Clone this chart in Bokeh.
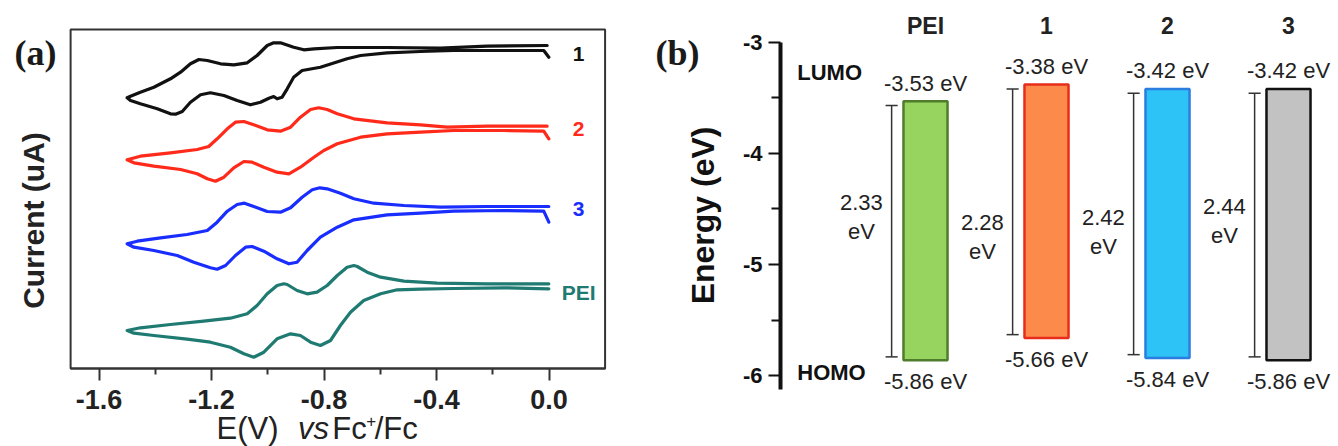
import math
from bokeh.plotting import figure
from bokeh.models import Range1d, FixedTicker, PrintfTickFormatter, BoxAnnotation
from bokeh.layouts import row
from bokeh.core.properties import value
from bokeh.embed import file_html
from bokeh.resources import INLINE

# ---------------- Panel (a): cyclic voltammograms ----------------
# potential (V vs Fc+/Fc) and current (arbitrary, stacked), one closed loop per compound
e_1 = [-0.007, -0.220, -0.386, -0.576, -0.753, -0.836, -0.872, -0.908, -0.955, -0.979, -1.002, -1.038,
       -1.073, -1.121, -1.168, -1.215, -1.245, -1.275, -1.310, -1.346, -1.405, -1.453, -1.488, -1.500,
       -1.488, -1.453, -1.393, -1.346, -1.328, -1.304, -1.275, -1.239, -1.204, -1.156, -1.109, -1.062,
       -1.026, -0.996, -0.979, -0.967, -0.949, -0.931, -0.908, -0.878, -0.813, -0.718, -0.670, -0.576,
       -0.457, -0.339, -0.161, -0.019, -0.001]
i_1 = [32.30, 32.23, 32.03, 32.10, 32.10, 31.97, 31.87, 32.13, 32.57, 32.57, 32.30, 31.30,
       30.57, 30.37, 30.47, 30.80, 30.90, 30.47, 29.63, 28.97, 28.13, 27.63, 27.23, 27.07,
       26.80, 26.47, 25.97, 25.47, 25.43, 25.70, 26.63, 27.37, 27.57, 27.30, 26.80, 26.37,
       26.63, 27.03, 27.20, 26.97, 27.13, 27.97, 29.13, 29.80, 30.13, 30.97, 31.30, 31.57,
       31.70, 31.80, 31.80, 31.80, 31.13]

e_2 = [-0.007, -0.220, -0.362, -0.457, -0.576, -0.694, -0.753, -0.789, -0.819, -0.848, -0.884, -0.919,
       -0.955, -1.002, -1.050, -1.085, -1.115, -1.144, -1.180, -1.210, -1.251, -1.346, -1.453, -1.500,
       -1.476, -1.405, -1.310, -1.251, -1.215, -1.186, -1.156, -1.121, -1.085, -1.056, -1.014, -0.967,
       -0.925, -0.884, -0.836, -0.801, -0.753, -0.670, -0.576, -0.457, -0.339, -0.161, -0.019, -0.001]
i_2 = [24.23, 24.23, 24.13, 24.37, 24.57, 24.97, 25.47, 25.90, 26.07, 25.90, 25.13, 24.13,
       23.73, 23.87, 24.37, 24.70, 24.63, 23.97, 22.97, 22.20, 21.90, 21.57, 21.23, 20.87,
       20.57, 20.23, 19.90, 19.47, 18.97, 18.73, 19.13, 20.07, 20.70, 20.63, 20.13, 19.63,
       19.47, 20.13, 21.13, 21.80, 22.47, 23.13, 23.47, 23.63, 23.80, 23.80, 23.73, 22.97]

e_3 = [-0.001, -0.220, -0.386, -0.516, -0.623, -0.694, -0.742, -0.789, -0.815, -0.842, -0.878, -0.919,
       -0.955, -1.002, -1.050, -1.083, -1.109, -1.144, -1.180, -1.215, -1.287, -1.381, -1.464, -1.500,
       -1.476, -1.405, -1.322, -1.263, -1.204, -1.180, -1.150, -1.115, -1.079, -1.056, -1.014, -0.967,
       -0.925, -0.896, -0.860, -0.813, -0.753, -0.694, -0.576, -0.457, -0.339, -0.161, -0.019, -0.001]
i_3 = [16.20, 16.20, 16.13, 16.30, 16.53, 16.97, 17.53, 17.97, 18.07, 17.87, 17.13, 16.07,
       15.63, 15.70, 16.20, 16.53, 16.40, 15.73, 14.63, 13.80, 13.40, 13.07, 12.73, 12.47,
       12.13, 11.80, 11.30, 10.63, 10.07, 9.93, 10.30, 11.30, 12.13, 12.20, 11.73, 10.97,
       10.47, 10.63, 11.80, 13.13, 14.13, 14.87, 15.37, 15.53, 15.73, 15.80, 15.73, 14.63]

e_pei = [-0.001, -0.220, -0.398, -0.516, -0.599, -0.647, -0.682, -0.694, -0.718, -0.753, -0.789, -0.825,
         -0.860, -0.896, -0.931, -0.943, -0.967, -1.002, -1.038, -1.073, -1.133, -1.228, -1.346, -1.453,
         -1.500,
         -1.476, -1.405, -1.287, -1.204, -1.133, -1.085, -1.050, -1.014, -0.967, -0.919, -0.884, -0.848,
         -0.813, -0.777, -0.742, -0.706, -0.659, -0.599, -0.540, -0.457, -0.339, -0.161, -0.001]
i_pei = [8.47, 8.47, 8.53, 8.73, 9.13, 9.63, 10.20, 10.30, 10.13, 9.30, 8.30, 7.63,
         7.47, 7.80, 8.40, 8.47, 8.30, 7.47, 6.30, 5.47, 5.03, 4.73, 4.40, 4.07,
         3.80,
         3.53, 3.30, 2.93, 2.63, 2.13, 1.47, 1.13, 1.63, 2.97, 3.47, 3.30, 2.63,
         2.30, 2.80, 4.30, 5.63, 6.80, 7.47, 7.87, 7.93, 8.00, 8.07, 7.97]

cv_names = ["1", "2", "3", "PEI"]
cv_colors = ["#111111", "#ff2a1a", "#1a2dff", "#1f7a72"]
cv_label_y = [31.5, 24.0, 16.0, 7.6]
x_ticks = [-1.6, -1.2, -0.8, -0.4, 0.0]
x_minor = [-1.4, -1.0, -0.6, -0.2]
E_LIM = (-1.701, 0.199)      # plot box, potential
I_LIM = (0.0, 33.9)          # plot box, current

SANS = "Liberation Sans"
SERIF = "Liberation Serif"

pa = figure(width=640, height=446, x_range=Range1d(-1.9502, 0.3249), y_range=Range1d(-7.8, 36.8),
            output_backend="svg", toolbar_location=None,
            min_border_left=0, min_border_right=0, min_border_top=0, min_border_bottom=0)
pa.grid.visible = False
pa.yaxis.visible = False
pa.outline_line_color = None

pa.add_layout(BoxAnnotation(left=E_LIM[0], right=E_LIM[1], bottom=I_LIM[0], top=I_LIM[1],
                            fill_color=None, fill_alpha=0, line_color="#333333", line_alpha=1.0,
                            line_width=2))

ax = pa.xaxis[0]
ax.fixed_location = I_LIM[0]
ax.bounds = E_LIM
ax.ticker = FixedTicker(ticks=x_ticks, minor_ticks=x_minor)
ax.formatter = PrintfTickFormatter(format="%.1f")
ax.axis_line_color = "#333333"
ax.axis_line_width = 2
ax.major_tick_line_color = "#333333"
ax.major_tick_line_width = 2
ax.minor_tick_line_color = "#333333"
ax.minor_tick_line_width = 2
ax.major_tick_in = 0
ax.major_tick_out = 12
ax.minor_tick_in = 0
ax.minor_tick_out = 6
ax.major_label_standoff = 9
ax.major_label_text_font = SANS
ax.major_label_text_font_style = "bold"
ax.major_label_text_font_size = "27px"
ax.major_label_text_color = "#222222"

for e, i, c in zip([e_1, e_2, e_3, e_pei], [i_1, i_2, i_3, i_pei], cv_colors):
    pa.line(e, i, line_color=c, line_width=3.2, line_join="round", line_cap="round")

pa.text(x=[0.105] * 4, y=cv_label_y, text=cv_names, text_color=cv_colors,
        text_font=value(SANS), text_font_style="bold", text_font_size="21px",
        text_align="center", text_baseline="middle")

pa.text(x=[-1.826], y=[31.6], text=["(a)"], text_font=value(SERIF), text_font_style="bold",
        text_font_size="36px", text_color="#1a1a1a", text_align="center", text_baseline="middle")
pa.text(x=[-1.833], y=[14.8], text=["Current (uA)"], text_font=value(SANS), text_font_style="bold",
        text_font_size="30px", text_color="#222222", angle=math.pi / 2,
        text_align="center", text_baseline="middle")
# x-axis title: E(V) vs Fc+/Fc  (with italic "vs" and superscript "+")
title_parts = [("E(V)", -1.182, -7.72, "normal", "31px", "bottom"),
               ("vs", -0.893, -7.72, "italic", "31px", "bottom"),
               ("Fc", -0.771, -7.72, "normal", "31px", "bottom"),
               ("+", -0.650, -5.25, "normal", "17px", "middle"),
               ("/Fc", -0.620, -7.72, "normal", "31px", "bottom")]
for txt, xx, yy, st, sz, bl in title_parts:
    pa.text(x=[xx], y=[yy], text=[txt], text_font=value(SANS), text_font_style=st,
            text_font_size=sz, text_color="#222222", text_align="left",
            text_baseline=bl)

# ---------------- Panel (b): energy levels ----------------
materials = ["PEI", "1", "2", "3"]
lumo = [-3.53, -3.38, -3.42, -3.42]
homo = [-5.86, -5.66, -5.84, -5.86]
gap = [2.33, 2.28, 2.42, 2.44]
bar_fill = ["#96d35f", "#fb8a4b", "#2dc3f7", "#c2c2c2"]
bar_line = ["#4f7d2c", "#e82c1c", "#2b7de0", "#111111"]
y_ticks = [-3, -4, -5, -6]
y_minor = [-3.5, -4.5, -5.5]
gap_label_y = [-4.575, -4.75, -4.71, -4.605]
AXIS_X = -1.198

xs = list(range(len(materials)))

pb = figure(width=698, height=446, x_range=Range1d(-2.3554, 3.4132), y_range=Range1d(-6.636, -2.625),
            output_backend="svg", toolbar_location=None,
            min_border_left=0, min_border_right=0, min_border_top=0, min_border_bottom=0)
pb.grid.visible = False
pb.xaxis.visible = False
pb.outline_line_color = None

ay = pb.yaxis[0]
ay.fixed_location = AXIS_X
ay.ticker = FixedTicker(ticks=y_ticks, minor_ticks=y_minor)
ay.formatter = PrintfTickFormatter(format="%.0f")
ay.bounds = (-6.12, -3.0)
ay.axis_line_color = "#111111"
ay.axis_line_width = 4
ay.major_tick_line_color = "#111111"
ay.major_tick_line_width = 2
ay.minor_tick_line_color = "#111111"
ay.minor_tick_line_width = 2
ay.major_tick_in = 0
ay.major_tick_out = 12
ay.minor_tick_in = 0
ay.minor_tick_out = 9
ay.major_label_standoff = 6
ay.major_label_text_font = SANS
ay.major_label_text_font_style = "bold"
ay.major_label_text_font_size = "22px"
ay.major_label_text_color = "#111111"

pb.vbar(x=xs, width=0.364, top=lumo, bottom=homo, fill_color=bar_fill, line_color=bar_line,
        line_width=2.5)

bx = [x - 0.28 for x in xs]
btop = [v - 0.04 for v in lumo]
bbot = [v + 0.03 for v in homo]
pb.segment(x0=bx, y0=btop, x1=bx, y1=bbot, line_color="#333333", line_width=1.5)
pb.segment(x0=[x - 0.05 for x in bx], y0=btop, x1=[x + 0.05 for x in bx], y1=btop,
           line_color="#333333", line_width=1.5)
pb.segment(x0=[x - 0.05 for x in bx], y0=bbot, x1=[x + 0.05 for x in bx], y1=bbot,
           line_color="#333333", line_width=1.5)

txt_common = dict(text_font=value(SANS), text_color="#222222", text_align="center")
pb.text(x=xs, y=[v + 0.05 for v in lumo], text=[f"{v:.2f} eV" for v in lumo],
        text_font_size="22px", text_baseline="bottom", **txt_common)
pb.text(x=xs, y=[v - 0.08 for v in homo], text=[f"{v:.2f} eV" for v in homo],
        text_font_size="22px", text_baseline="top", **txt_common)
pb.text(x=[x - 0.53 for x in xs], y=gap_label_y, text=[f"{g:.2f}\neV" for g in gap],
        text_font_size="22px", text_baseline="middle", text_line_height=1.15, **txt_common)
pb.text(x=xs, y=[-2.85] * 4, text=materials, text_font_size="23px", text_font_style="bold",
        text_baseline="middle", **txt_common)
pb.text(x=[-1.06, -1.06], y=[-3.27, -5.97], text=["LUMO", "HOMO"], text_font=value(SANS),
        text_font_style="bold", text_font_size="22px", text_color="#111111",
        text_align="left", text_baseline="middle")

pb.text(x=[-2.05], y=[-3.10], text=["(b)"], text_font=value(SERIF), text_font_style="bold",
        text_font_size="36px", text_color="#1a1a1a", text_align="center", text_baseline="middle")
pb.text(x=[-1.843], y=[-4.558], text=["Energy (eV)"], text_font=value(SANS), text_font_style="bold",
        text_font_size="32px", text_color="#111111", angle=math.pi / 2,
        text_align="center", text_baseline="middle")

layout = row(pa, pb)
open("out.html", "w").write(file_html(layout, INLINE))
